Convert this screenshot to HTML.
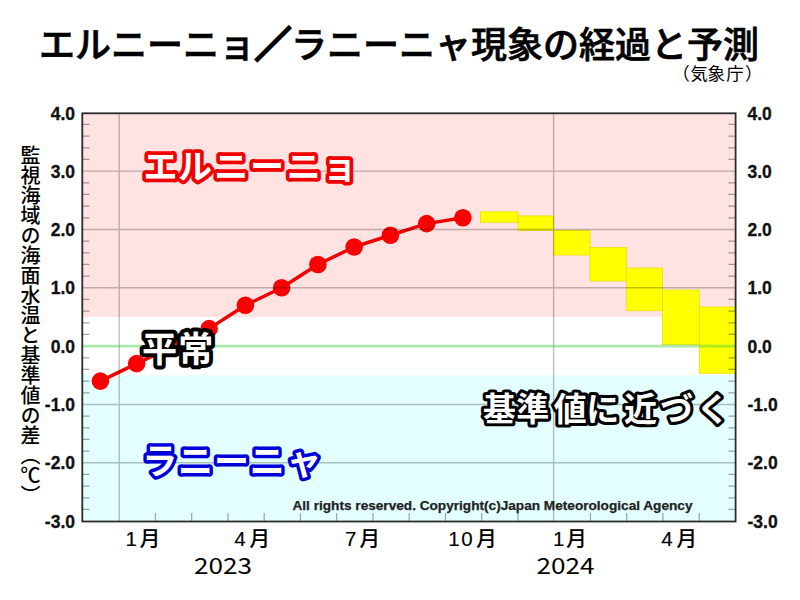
<!DOCTYPE html>
<html><head><meta charset="utf-8"><style>
html,body{margin:0;padding:0;background:#fff;width:800px;height:600px;overflow:hidden}
svg{position:absolute;left:0;top:0}
.yl{font-family:"Liberation Sans",sans-serif;font-weight:bold;font-size:17.5px;fill:#111;stroke:#111;stroke-width:0.3px}
.cp{font-family:"Liberation Sans",sans-serif;font-weight:bold;font-size:13px;fill:#222;stroke:#222;stroke-width:0.25px}
.xl{font-family:"Liberation Sans","Noto Sans CJK JP",sans-serif;font-weight:500;font-size:20.5px;fill:#000;stroke:#000;stroke-width:0.15px}
.xd{font-family:"Liberation Sans",sans-serif;font-size:21px;fill:#000;stroke:#000;stroke-width:0.15px}
.yr{font-family:"Noto Sans CJK JP",sans-serif;font-size:22px;fill:#000}
.an{font-family:"Noto Sans CJK JP",sans-serif;font-weight:700;font-size:36px;fill:#fff;stroke-width:8;stroke-linejoin:round;paint-order:stroke}
.tt{font-family:"Noto Sans CJK JP",sans-serif;font-weight:500;font-size:36px;fill:#000;stroke:#000;stroke-width:0.7px}
.st{font-family:"Noto Sans CJK JP",sans-serif;font-size:17.5px;fill:#000}
#vl{position:absolute;left:19px;top:144.5px;writing-mode:vertical-rl;font-family:"Noto Sans CJK JP",sans-serif;font-weight:500;font-size:20px;line-height:22px;color:#000;white-space:nowrap}
</style></head><body>
<svg width="800" height="600" viewBox="0 0 800 600">
<rect x="82.3" y="113.3" width="653.3" height="203.65" fill="#FFE3E3"/>
<rect x="82.3" y="316.95" width="653.3" height="58.33" fill="#FFFFFF"/>
<rect x="82.3" y="375.29" width="653.3" height="146.21" fill="#E3FFFF"/>
<rect x="480.4" y="211.8" width="37.60" height="10.50" fill="#FFFF00" stroke="#E8E000" stroke-width="0.8"/>
<rect x="518.0" y="215.9" width="35.60" height="14.60" fill="#FFFF00" stroke="#E8E000" stroke-width="0.8"/>
<rect x="553.6" y="230.5" width="36.40" height="24.50" fill="#FFFF00" stroke="#E8E000" stroke-width="0.8"/>
<rect x="590.0" y="247.5" width="36.70" height="33.50" fill="#FFFF00" stroke="#E8E000" stroke-width="0.8"/>
<rect x="626.7" y="268.0" width="35.70" height="42.70" fill="#FFFF00" stroke="#E8E000" stroke-width="0.8"/>
<rect x="662.4" y="290.0" width="36.90" height="54.60" fill="#FFFF00" stroke="#E8E000" stroke-width="0.8"/>
<rect x="699.3" y="307.0" width="36.30" height="66.30" fill="#FFFF00" stroke="#E8E000" stroke-width="0.8"/>
<polyline points="100.38,381.12 136.62,363.62 172.88,346.12 209.12,328.62 245.38,305.29 281.62,287.79 317.88,264.46 354.12,246.96 390.38,235.29 426.62,223.63 462.88,217.79" fill="none" stroke="#F20000" stroke-width="3.5" stroke-linejoin="round"/>
<circle cx="100.38" cy="381.12" r="8.8" fill="#FA0000"/>
<circle cx="136.62" cy="363.62" r="8.8" fill="#FA0000"/>
<circle cx="172.88" cy="346.12" r="8.8" fill="#FA0000"/>
<circle cx="209.12" cy="328.62" r="8.8" fill="#FA0000"/>
<circle cx="245.38" cy="305.29" r="8.8" fill="#FA0000"/>
<circle cx="281.62" cy="287.79" r="8.8" fill="#FA0000"/>
<circle cx="317.88" cy="264.46" r="8.8" fill="#FA0000"/>
<circle cx="354.12" cy="246.96" r="8.8" fill="#FA0000"/>
<circle cx="390.38" cy="235.29" r="8.8" fill="#FA0000"/>
<circle cx="426.62" cy="223.63" r="8.8" fill="#FA0000"/>
<circle cx="462.88" cy="217.79" r="8.8" fill="#FA0000"/>
<path d="M82.3 171.13H735.6 M82.3 229.46H735.6 M82.3 287.79H735.6 M82.3 404.45H735.6 M82.3 462.78H735.6 M119.20 113.3V521.5 M553.60 113.3V521.5" stroke="#000" stroke-opacity="0.25" stroke-width="1.4" fill="none"/>
<path d="M82.3 124.47h7.2 M735.6 124.47h-7.2 M82.3 136.13h7.2 M735.6 136.13h-7.2 M82.3 147.80h7.2 M735.6 147.80h-7.2 M82.3 159.46h7.2 M735.6 159.46h-7.2 M82.3 182.80h7.2 M735.6 182.80h-7.2 M82.3 194.46h7.2 M735.6 194.46h-7.2 M82.3 206.13h7.2 M735.6 206.13h-7.2 M82.3 217.79h7.2 M735.6 217.79h-7.2 M82.3 241.13h7.2 M735.6 241.13h-7.2 M82.3 252.79h7.2 M735.6 252.79h-7.2 M82.3 264.46h7.2 M735.6 264.46h-7.2 M82.3 276.12h7.2 M735.6 276.12h-7.2 M82.3 299.46h7.2 M735.6 299.46h-7.2 M82.3 311.12h7.2 M735.6 311.12h-7.2 M82.3 322.79h7.2 M735.6 322.79h-7.2 M82.3 334.45h7.2 M735.6 334.45h-7.2 M82.3 357.79h7.2 M735.6 357.79h-7.2 M82.3 369.45h7.2 M735.6 369.45h-7.2 M82.3 381.12h7.2 M735.6 381.12h-7.2 M82.3 392.78h7.2 M735.6 392.78h-7.2 M82.3 416.12h7.2 M735.6 416.12h-7.2 M82.3 427.78h7.2 M735.6 427.78h-7.2 M82.3 439.45h7.2 M735.6 439.45h-7.2 M82.3 451.11h7.2 M735.6 451.11h-7.2 M82.3 474.45h7.2 M735.6 474.45h-7.2 M82.3 486.11h7.2 M735.6 486.11h-7.2 M82.3 497.78h7.2 M735.6 497.78h-7.2 M82.3 509.44h7.2 M735.6 509.44h-7.2 M155.45 521.5v-8.5 M191.70 521.5v-8.5 M227.95 521.5v-8.5 M264.20 521.5v-8.5 M300.45 521.5v-8.5 M336.70 521.5v-8.5 M372.95 521.5v-8.5 M409.20 521.5v-8.5 M445.45 521.5v-8.5 M481.70 521.5v-8.5 M517.95 521.5v-8.5 M590.45 521.5v-8.5 M626.70 521.5v-8.5 M662.95 521.5v-8.5 M699.20 521.5v-8.5" stroke="#000" stroke-opacity="0.35" stroke-width="1.2" fill="none"/>
<path d="M82.3 346.22H735.6" stroke="#40D040" stroke-opacity="0.45" stroke-width="2.8"/>
<rect x="82.3" y="113.3" width="653.3" height="408.2" fill="none" stroke="#2a2a2a" stroke-width="1.8"/>
<text x="75" y="119.50" text-anchor="end" class="yl">4.0</text>
<text x="747.5" y="119.50" class="yl">4.0</text>
<text x="75" y="177.83" text-anchor="end" class="yl">3.0</text>
<text x="747.5" y="177.83" class="yl">3.0</text>
<text x="75" y="236.16" text-anchor="end" class="yl">2.0</text>
<text x="747.5" y="236.16" class="yl">2.0</text>
<text x="75" y="294.49" text-anchor="end" class="yl">1.0</text>
<text x="747.5" y="294.49" class="yl">1.0</text>
<text x="75" y="352.82" text-anchor="end" class="yl">0.0</text>
<text x="747.5" y="352.82" class="yl">0.0</text>
<text x="75" y="411.15" text-anchor="end" class="yl">-1.0</text>
<text x="747.5" y="411.15" class="yl">-1.0</text>
<text x="75" y="469.48" text-anchor="end" class="yl">-2.0</text>
<text x="747.5" y="469.48" class="yl">-2.0</text>
<text x="75" y="527.81" text-anchor="end" class="yl">-3.0</text>
<text x="747.5" y="527.81" class="yl">-3.0</text>
<text x="292.5" y="509.5" class="cp" textLength="400" lengthAdjust="spacingAndGlyphs">All rights reserved. Copyright(c)Japan Meteorological Agency</text>
<text x="125.5 139.75" y="545.6" class="xl">1月</text>
<text x="234.25 249.5" y="545.6" class="xl">4月</text>
<text x="345 359.5" y="545.6" class="xl">7月</text>
<text x="448.3 461.2 476.2" y="545.6" class="xl">10月</text>
<text x="553 566.25" y="545.6" class="xl">1月</text>
<text x="661.25 676.5" y="545.6" class="xl">4月</text>
<text x="194" y="574.3" class="yr" textLength="58" lengthAdjust="spacingAndGlyphs">2023</text>
<text x="536.4" y="574.3" class="yr" textLength="58" lengthAdjust="spacingAndGlyphs">2024</text>
<text x="143.4 178.1 214.2 249.9 286.7 322.6" y="179.3" class="an" style="font-size:34px;stroke-width:7.5px" stroke="#F00000">エルニーニョ</text>
<text x="142.0 178.3" y="362.2" class="an" style="font-size:35px;stroke-width:8px" stroke="#000">平常</text>
<text x="142.2 178.0 214.1 249.8 286.4" y="474" class="an" style="font-size:35px;stroke-width:7px" stroke="#0000D8">ラニーニャ</text>
<text x="482.9 516.3 553.7 586.3 624.1 660.2 696.5" y="420.6" class="an" style="font-size:33px;stroke-width:6.2px" stroke="#000">基準値に近づく</text>
<text x="39" y="58" class="tt">エルニーニョ<tspan style="stroke-width:3px">／</tspan>ラニーニャ現象の経過と予測</text>
<text x="672.2 690.2 707.6 726.3 745" y="80" class="st">（気象庁）</text>
</svg>
<div id="vl">監視海域の海面水温と基準値の差（℃）</div>
</body></html>
